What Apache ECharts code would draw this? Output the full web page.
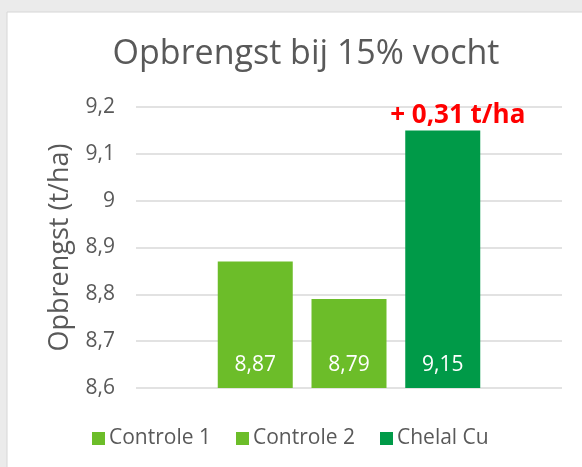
<!DOCTYPE html>
<html>
<head>
<meta charset="utf-8">
<script src="https://cdn.jsdelivr.net/npm/echarts@6/dist/echarts.min.js"></script>
<style>
  html, body { margin: 0; padding: 0; background: #ebebeb; }
  #main { width: 582px; height: 467px; }
</style>
</head>
<body>
<div id="main"></div>
<script>
// data
var categories = ['Opbrengst'];
var seriesNames = ['Controle 1', 'Controle 2', 'Chelal Cu'];
var controle1 = [8.87];
var controle2 = [8.79];
var chelalCu = [9.15];
var yTicks = [8.6, 8.7, 8.8, 8.9, 9.0, 9.1, 9.2];
var verschilLabel = '+ 0,31 t/ha';

var font = '"Open Sans", sans-serif';
var grijs = '#595959';

function komma(v) {
    return String(+Number(v).toFixed(2)).replace('.', ',');
}

function barSeries(name, data, color, extra) {
    var s = {
        name: name,
        type: 'bar',
        data: data,
        barWidth: 75,
        barGap: '25%',
        itemStyle: { color: color },
        label: {
            show: true,
            position: 'insideBottom',
            distance: 12,
            color: '#fff',
            fontFamily: font,
            fontSize: 21,
            formatter: function (p) { return komma(p.value); }
        }
    };
    if (extra) {
        for (var k in extra) s[k] = extra[k];
    }
    return s;
}

var myChart = echarts.init(document.getElementById('main'));
var option = {
    animation: false,
    graphic: [{
        type: 'rect',
        z: -10,
        shape: { x: 7, y: 12, width: 600, height: 480 },
        style: { fill: '#fff', stroke: '#d6d6d6', lineWidth: 1 }
    }],
    title: {
        text: 'Opbrengst bij 15% vocht',
        left: 301,
        textAlign: 'center',
        top: 32,
        textStyle: { color: grijs, fontFamily: font, fontSize: 34, fontWeight: 'normal' }
    },
    legend: {
        bottom: 18,
        left: 92,
        padding: 0,
        itemWidth: 13,
        itemHeight: 13,
        itemGap: 25,
        icon: 'rect',
        textStyle: { color: grijs, fontFamily: font, fontSize: 21, padding: [0, 0, 0, -1] },
        data: seriesNames
    },
    grid: { left: 136, right: 20, top: 107, bottom: 79 },
    xAxis: {
        type: 'category',
        data: categories,
        axisLine: { show: false },
        axisTick: { show: false },
        axisLabel: { show: false }
    },
    yAxis: {
        type: 'value',
        min: yTicks[0],
        max: yTicks[yTicks.length - 1],
        interval: 0.1,
        name: 'Opbrengst (t/ha)',
        nameLocation: 'middle',
        nameGap: 62,
        nameTextStyle: { color: grijs, fontFamily: font, fontSize: 27 },
        axisLine: { show: false },
        axisTick: { show: false },
        axisLabel: {
            color: grijs, fontFamily: font, fontSize: 21, margin: 21,
            formatter: function (v) { return String(+Number(v).toFixed(1)).replace('.', ','); }
        },
        splitLine: { lineStyle: { color: '#d9d9d9', width: 1.5 } }
    },
    series: [
        barSeries(seriesNames[0], controle1, '#6cbd29'),
        barSeries(seriesNames[1], controle2, '#6cbd29'),
        barSeries(seriesNames[2], chelalCu, '#009a48', {
            markPoint: {
                symbol: 'rect',
                symbolSize: 1,
                itemStyle: { color: 'rgba(0,0,0,0)' },
                data: [{ type: 'max' }],
                label: {
                    show: true,
                    position: 'top',
                    distance: 1,
                    offset: [15, 0],
                    color: '#ff0000',
                    fontFamily: font,
                    fontWeight: 'bold',
                    fontSize: 26,
                    formatter: verschilLabel
                }
            }
        })
    ]
};
myChart.setOption(option);
</script>
</body>
</html>
